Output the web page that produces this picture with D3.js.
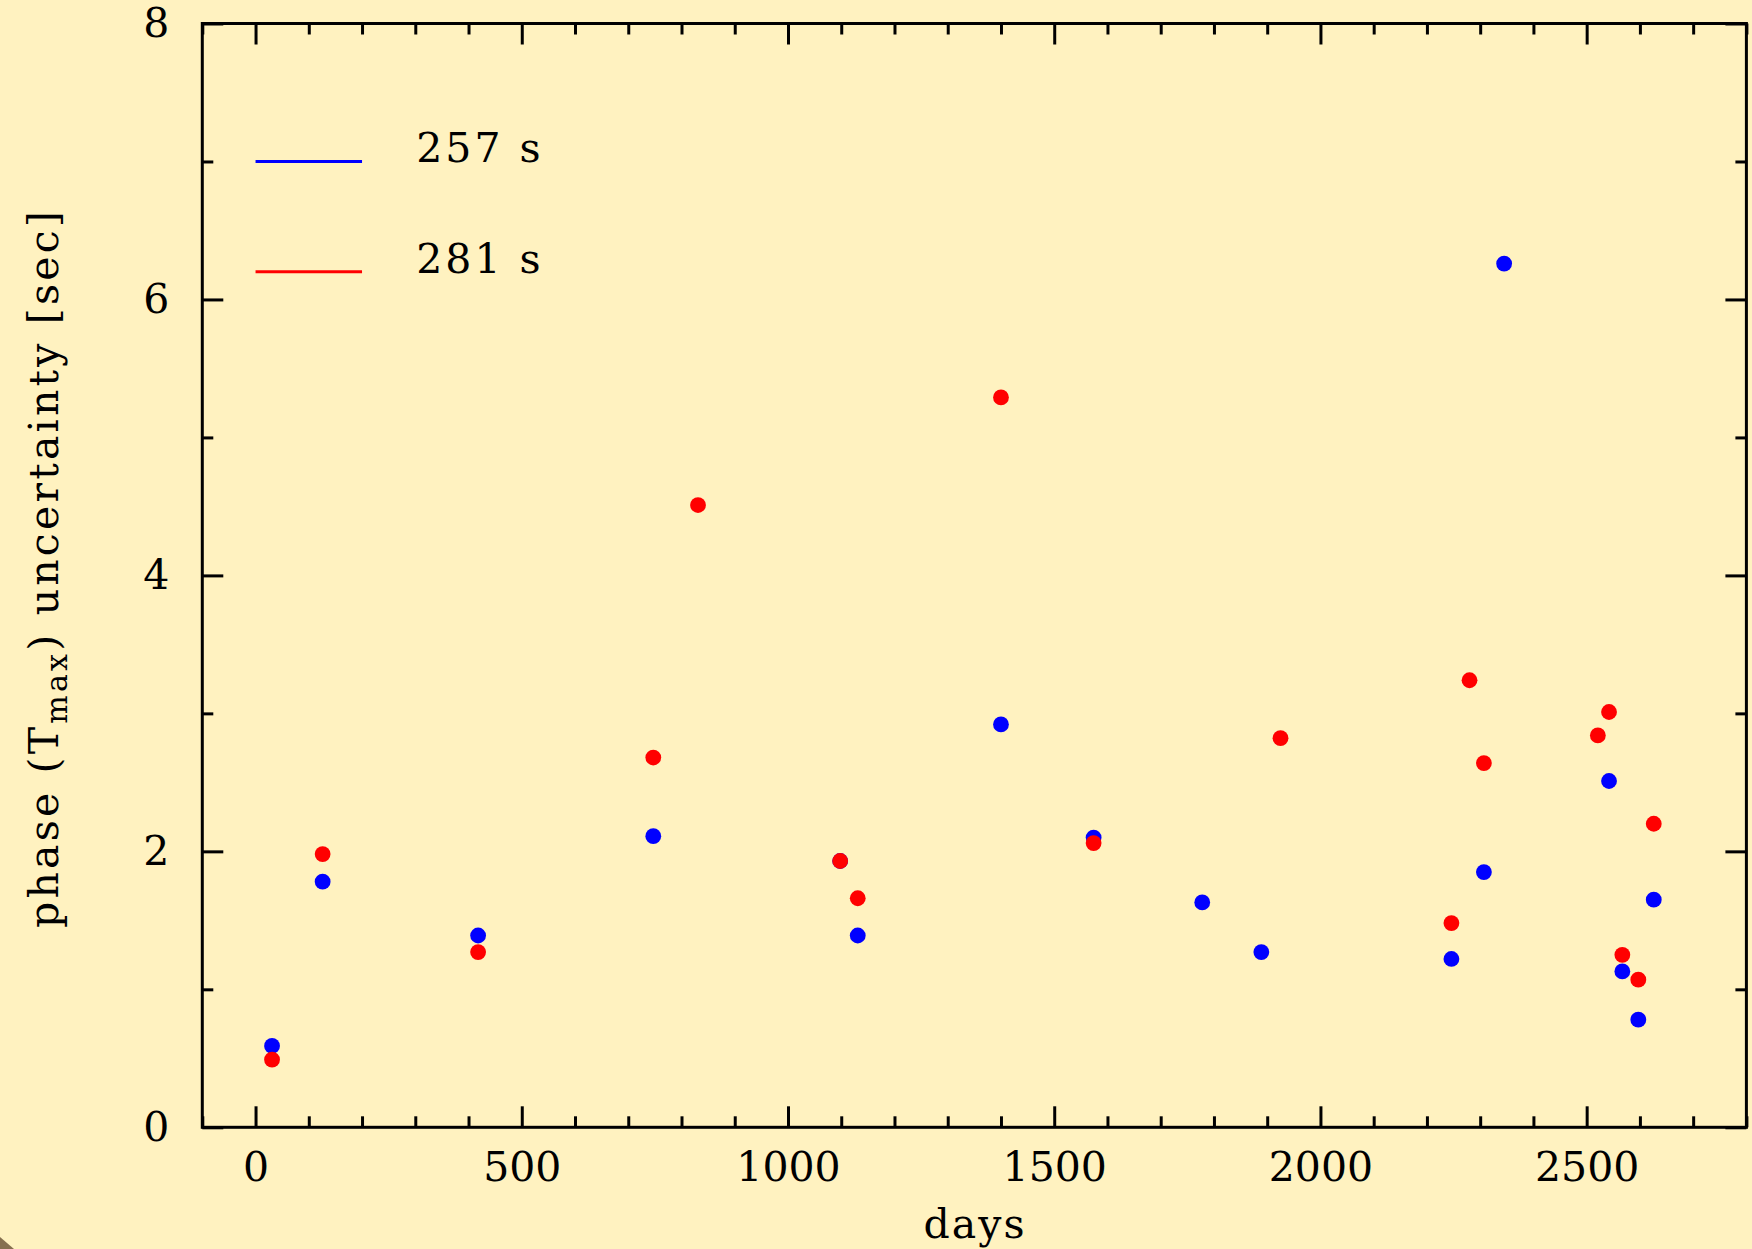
<!DOCTYPE html>
<html>
<head>
<meta charset="utf-8">
<script src="https://cdn.jsdelivr.net/npm/d3@7"></script>
<style>
  html, body { margin: 0; padding: 0; background: #fff2c0; }
  svg { display: block; }
  text { font-family: "DejaVu Serif", "Liberation Serif", serif; fill: #000; }
</style>
</head>
<body>
<script>
'use strict';

// 257 s period
const days257 = [31, 126, 418, 747, 1098, 1131, 1400, 1574, 1778, 1889, 2246, 2307, 2345, 2542, 2567, 2597, 2626];
const unc257  = [0.59, 1.78, 1.39, 2.11, 1.93, 1.39, 2.92, 2.10, 1.63, 1.27, 1.22, 1.85, 6.26, 2.51, 1.13, 0.78, 1.65];

// 281 s period
const days281 = [31, 126, 418, 747, 831, 1098, 1131, 1400, 1574, 1925, 2246, 2280, 2307, 2521, 2542, 2567, 2597, 2626];
const unc281  = [0.49, 1.98, 1.27, 2.68, 4.51, 1.93, 1.66, 5.29, 2.06, 2.82, 1.48, 3.24, 2.64, 2.84, 3.01, 1.25, 1.07, 2.20];

const xMajor = [0, 500, 1000, 1500, 2000, 2500];
const xMinor = [-100, 100, 200, 300, 400, 600, 700, 800, 900, 1100, 1200, 1300, 1400,
                1600, 1700, 1800, 1900, 2100, 2200, 2300, 2400, 2600, 2700, 2800];
const yMajor = [0, 2, 4, 6, 8];
const yMinor = [1, 3, 5, 7];

const seriesNames = ['257 s', '281 s'];
const seriesColors = ['#0000ff', '#ff0000'];

(function() {
  const width = 1752;
  const height = 1249;
  const pLeft = 202.3, pRight = 1746.4, pTop = 23.5, pBottom = 1127.3;

  const svg = d3.select('body').append('svg')
    .attr('width', width)
    .attr('height', height);

  svg.append('rect')
    .attr('width', width).attr('height', height)
    .attr('fill', '#fff2c0');

  // little dark corner at bottom left
  svg.append('path')
    .attr('d', 'M0,' + (height - 12) + ' L14,' + height + ' L0,' + height + ' Z')
    .attr('fill', '#86704f');

  const xScale = d3.scaleLinear().domain([-100, 2800]).range([pLeft, pRight]);
  const yScale = d3.scaleLinear().domain([0, 8]).range([pBottom, pTop]);

  function styleAxis(g) {
    g.select('.domain').remove();
    g.selectAll('line').attr('stroke', '#000').attr('stroke-width', 3);
    g.selectAll('text').style('font-size', '41px').attr('fill', '#000');
  }

  // minor ticks, all four sides
  svg.append('g').attr('transform', 'translate(0,' + pBottom + ')')
    .call(d3.axisBottom(xScale).tickValues(xMinor).tickSize(-11).tickFormat(''))
    .call(styleAxis);
  svg.append('g').attr('transform', 'translate(0,' + pTop + ')')
    .call(d3.axisTop(xScale).tickValues(xMinor).tickSize(-11).tickFormat(''))
    .call(styleAxis);
  svg.append('g').attr('transform', 'translate(' + pLeft + ',0)')
    .call(d3.axisLeft(yScale).tickValues(yMinor).tickSize(-11).tickFormat(''))
    .call(styleAxis);
  svg.append('g').attr('transform', 'translate(' + pRight + ',0)')
    .call(d3.axisRight(yScale).tickValues(yMinor).tickSize(-11).tickFormat(''))
    .call(styleAxis);

  // major ticks with labels
  svg.append('g').attr('transform', 'translate(0,' + pBottom + ')')
    .call(d3.axisBottom(xScale).tickValues(xMajor).tickSize(-21).tickPadding(25).tickFormat(d3.format('d')))
    .call(styleAxis);
  svg.append('g').attr('transform', 'translate(0,' + pTop + ')')
    .call(d3.axisTop(xScale).tickValues(xMajor).tickSize(-21).tickFormat(''))
    .call(styleAxis);
  svg.append('g').attr('transform', 'translate(' + pLeft + ',0)')
    .call(d3.axisLeft(yScale).tickValues(yMajor).tickSize(-21).tickPadding(33).tickFormat(d3.format('d')))
    .call(styleAxis);
  svg.append('g').attr('transform', 'translate(' + pRight + ',0)')
    .call(d3.axisRight(yScale).tickValues(yMajor).tickSize(-21).tickFormat(''))
    .call(styleAxis);

  // frame
  svg.append('rect')
    .attr('x', pLeft).attr('y', pTop)
    .attr('width', pRight - pLeft).attr('height', pBottom - pTop)
    .attr('fill', 'none')
    .attr('stroke', '#000')
    .attr('stroke-width', 3);

  // points: blue first, red on top
  const series = [
    { days: days257, unc: unc257, color: seriesColors[0] },
    { days: days281, unc: unc281, color: seriesColors[1] }
  ];
  series.forEach(function(s) {
    svg.append('g').selectAll('circle')
      .data(s.days.map((d, i) => [d, s.unc[i]]))
      .enter()
      .append('circle')
      .attr('cx', d => xScale(d[0]))
      .attr('cy', d => yScale(d[1]))
      .attr('r', 7.9)
      .attr('fill', s.color);
  });

  // legend
  const legendY = [7.0, 6.2];
  seriesNames.forEach(function(name, i) {
    const ly = yScale(legendY[i]);
    svg.append('line')
      .attr('x1', xScale(0)).attr('x2', xScale(200))
      .attr('y1', ly).attr('y2', ly)
      .attr('stroke', seriesColors[i])
      .attr('stroke-width', 3);
    svg.append('text')
      .attr('x', xScale(300) + 1)
      .attr('y', ly + 1)
      .style('font-size', '41px')
      .style('letter-spacing', '3px')
      .attr('fill', seriesColors[i])
      .text(name);
  });

  // axis titles
  svg.append('text')
    .attr('x', 975)
    .attr('y', 1238)
    .attr('text-anchor', 'middle')
    .style('font-size', '41px')
    .style('letter-spacing', '2px')
    .text('days');

  const yTitle = svg.append('text')
    .attr('transform', 'translate(58,568)rotate(-90)')
    .attr('text-anchor', 'middle')
    .style('font-size', '41px')
    .style('letter-spacing', '3.2px');
  yTitle.append('tspan').text('phase (T');
  yTitle.append('tspan').attr('dy', 9).style('font-size', '30px').text('max');
  yTitle.append('tspan').attr('dy', -9).text(') uncertainty [sec]');
})();
</script>
</body>
</html>
